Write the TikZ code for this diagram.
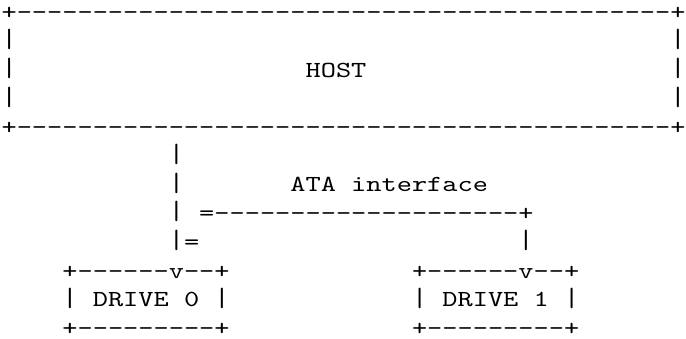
\documentclass[tikz,border=0pt]{standalone}
\usepackage{graphicx}
\usepackage{fontspec}
\newfontfamily\ascfont[Ligatures=TeXOff,FakeStretch=1.2588]{lmmono10-regular.otf}
\newcommand\vbar{\raisebox{0.7pt}{\scalebox{1}[1.15]{|}}}
\tikzset{
  asc/.style={anchor=base west, inner sep=0pt, outer sep=0pt, text depth=0pt,
    font=\ascfont\fontsize{23}{23}\selectfont, text=black},
}
% column c -> x = 1.6 + 15.2 c ; row r -> baseline y = 319.2 - 28.7 r
\begin{document}
\begin{tikzpicture}[x=1pt,y=1pt]
\useasboundingbox (0,0) rectangle (686,339);
% HOST box
\node[asc] (r0)  at ({1.6+15.2*0},{319.2-28.7*0}) {+-------------------------------------------+};
\node[asc] (r1a) at ({1.6+15.2*0},{319.2-28.7*1}) {\vbar};
\node[asc] (r1b) at ({1.6+15.2*44},{319.2-28.7*1}) {\vbar};
\node[asc] (r2a) at ({1.6+15.2*0},{319.2-28.7*2}) {\vbar};
\node[asc] (host) at ({1.6+15.2*20},{319.2-28.7*2}) {HOST};
\node[asc] (r2b) at ({1.6+15.2*44},{319.2-28.7*2}) {\vbar};
\node[asc] (r3a) at ({1.6+15.2*0},{319.2-28.7*3}) {\vbar};
\node[asc] (r3b) at ({1.6+15.2*44},{319.2-28.7*3}) {\vbar};
\node[asc] (r4)  at ({1.6+15.2*0},{319.2-28.7*4}) {+-------------------------------------------+};
% bus
\node[asc] (r5)  at ({1.6+15.2*11},{319.2-28.7*5}) {\vbar};
\node[asc] (r6)  at ({1.6+15.2*11},{319.2-28.7*6}) {\vbar};
\node[asc] (ata) at ({1.6+15.2*19},{319.2-28.7*6}) {ATA};
\node[asc] (iface) at ({1.6+15.2*23},{319.2-28.7*6}) {interface};
\node[asc] (r7a) at ({1.6+15.2*11},{319.2-28.7*7}) {\vbar};
\node[asc] (r7b) at ({1.6+15.2*13},{319.2-28.7*7}) {=--------------------+};
\node[asc] (r8a) at ({1.6+15.2*11},{319.2-28.7*8}) {\vbar=};
\node[asc] (r8b) at ({1.6+15.2*34},{319.2-28.7*8}) {\vbar};
% drives
\node[asc] (d0t) at ({1.6+15.2*4},{319.2-28.7*9}) {+------v--+};
\node[asc] (d1t) at ({1.6+15.2*27},{319.2-28.7*9}) {+------v--+};
\node[asc] (d0l) at ({1.6+15.2*4},{319.2-28.7*10}) {\vbar};
\node[asc] (d0n) at ({1.6+15.2*6},{319.2-28.7*10}) {DRIVE};
\node[asc] (d0k) at ({1.6+15.2*12},{319.2-28.7*10}) {0};
\node[asc] (d0r) at ({1.6+15.2*14},{319.2-28.7*10}) {\vbar};
\node[asc] (d1l) at ({1.6+15.2*27},{319.2-28.7*10}) {\vbar};
\node[asc] (d1n) at ({1.6+15.2*29},{319.2-28.7*10}) {DRIVE};
\node[asc] (d1k) at ({1.6+15.2*35},{319.2-28.7*10}) {1};
\node[asc] (d1r) at ({1.6+15.2*37},{319.2-28.7*10}) {\vbar};
\node[asc] (d0b) at ({1.6+15.2*4},{319.2-28.7*11}) {+---------+};
\node[asc] (d1b) at ({1.6+15.2*27},{319.2-28.7*11}) {+---------+};
\end{tikzpicture}
\end{document}
